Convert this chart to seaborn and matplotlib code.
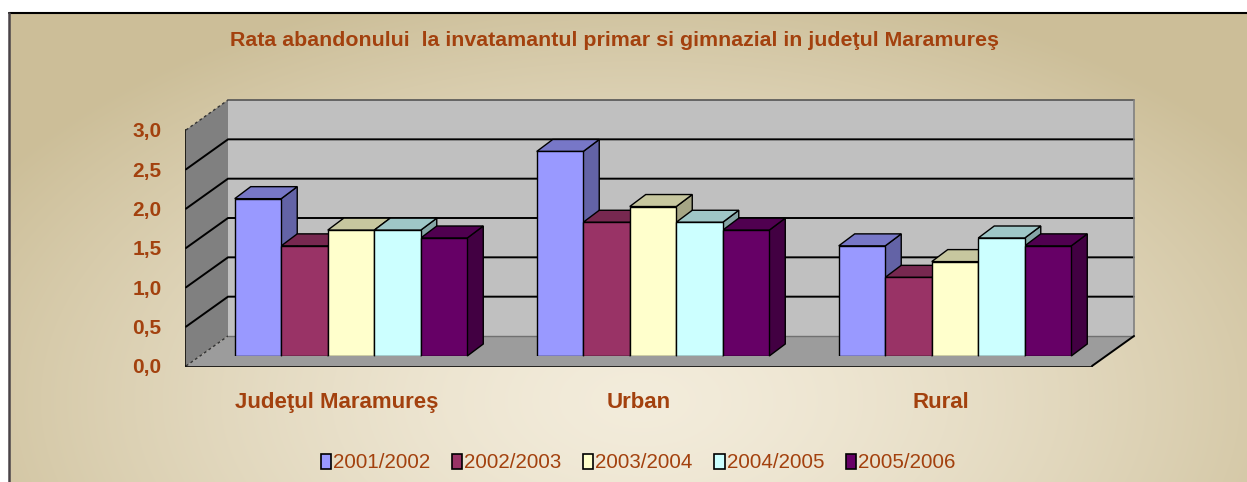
import numpy as np
import pandas as pd
import matplotlib
matplotlib.use("Agg")
import matplotlib.pyplot as plt
import seaborn as sns
from matplotlib.patches import Polygon, Patch
from matplotlib.lines import Line2D
from matplotlib.transforms import IdentityTransform
from matplotlib.colors import to_rgb

# ---------------- data ----------------
categories = ["Judeţul Maramureş", "Urban", "Rural"]
years = ["2001/2002", "2002/2003", "2003/2004", "2004/2005", "2005/2006"]
v2001_2002 = [2.0, 2.6, 1.4]
v2002_2003 = [1.4, 1.7, 1.0]
v2003_2004 = [1.6, 1.9, 1.2]
v2004_2005 = [1.6, 1.7, 1.5]
v2005_2006 = [1.5, 1.6, 1.4]
ytick_values = [0.0, 0.5, 1.0, 1.5, 2.0, 2.5, 3.0]
ytick_labels = ["0,0", "0,5", "1,0", "1,5", "2,0", "2,5", "3,0"]
title = "Rata abandonului  la invatamantul primar si gimnazial in judeţul Maramureş"

series = [v2001_2002, v2002_2003, v2003_2004, v2004_2005, v2005_2006]
rows = []
for yr, vals in zip(years, series):
    for c, v in zip(categories, vals):
        rows.append({"categorie": c, "an": yr, "rata": v})
df = pd.DataFrame(rows)

# ---------------- style ----------------
colors = ["#9999FF", "#993366", "#FFFFCC", "#CCFFFF", "#660066"]
TXT = "#A3410E"
sns.set_style("white")
plt.rcParams["font.family"] = ["Liberation Sans", "DejaVu Sans"]

W, H = 1247, 482
fig = plt.figure(figsize=(W / 100, H / 100), dpi=100)
fig.patch.set_facecolor("white")

# background gradient panel
bg = fig.add_axes([0, 0, 1, 1], zorder=-10)
bg.set_xlim(0, W)
bg.set_ylim(H, 0)
bg.set_axis_off()
xx, yy = np.meshgrid(np.arange(9, W), np.arange(13, H))
d = np.sqrt(((xx - 640) / 760.0) ** 2 + ((yy - 400) / 430.0) ** 2)
d = np.clip(d, 0, 1) ** 1.4
c0 = np.array(to_rgb("#F3ECDB"))
c1 = np.array(to_rgb("#CCBE98"))
img = c0[None, None, :] * (1 - d[..., None]) + c1[None, None, :] * d[..., None]
bg.imshow(img, extent=(9, W, H, 13), aspect="auto", interpolation="bilinear")
bg.plot([9, W], [12.5, 12.5], color="black", lw=1.5)
bg.plot([8.5, 8.5], [12.5, H], color="#4a4448", lw=1.8)

# front plane axes (value axis + category axis)
axf = fig.add_axes([186 / W, 116 / H, 906 / W, 236 / H], zorder=1)
axf.set_xlim(-0.5, 2.5)
axf.set_ylim(0, 3)
axf.patch.set_alpha(0)
for s in ["top", "right"]:
    axf.spines[s].set_visible(False)
for s in ["left", "bottom"]:
    axf.spines[s].set_color("black")
    axf.spines[s].set_linewidth(1.2)
axf.set_yticks(ytick_values)
axf.set_yticklabels(ytick_labels)
axf.set_xticks(range(len(categories)))
axf.set_xticklabels(categories)
axf.set_xticks([-0.5, 0.5, 1.5, 2.5], minor=True)
axf.tick_params(axis="y", direction="out", length=4.5, width=1.1, color="black",
                pad=13, labelsize=15, labelcolor=TXT)
axf.tick_params(axis="x", which="major", length=0, pad=19, labelsize=16, labelcolor=TXT)
axf.tick_params(axis="x", which="minor", direction="out", length=5, width=1.1, color="black")
for t in axf.get_yticklabels() + axf.get_xticklabels():
    t.set_fontweight("bold")

# bar plane axes
ax = fig.add_axes([200 / W, 126 / H, 906 / W, 236 / H], zorder=2)
sns.barplot(data=df, x="categorie", y="rata", hue="an", palette=colors,
            width=0.77, saturation=1, edgecolor="black", linewidth=1.0,
            legend=False, ax=ax)
ax.set_xlim(-0.5, 2.5)
ax.set_ylim(0, 3)
ax.set_axis_off()

bars = list(ax.patches)

FDX, FDY = -14, -10      # bar plane -> front plane
DDX, DDY = 42, 30        # full depth
BDX, BDY = 16, 12        # bar depth


def P(xd, yd, depth):
    px, py = ax.transData.transform((xd, yd))
    return (px + FDX + depth * DDX, py + FDY + depth * DDY)


def poly(pts, fc, ec="none", lw=0, z=0.5, ls="-"):
    p = Polygon(pts, closed=True, facecolor=fc, edgecolor=ec, linewidth=lw,
                transform=IdentityTransform(), clip_on=False, zorder=z, linestyle=ls)
    ax.add_patch(p)


def line(pts, color="black", lw=1.3, z=0.8, ls="-"):
    xs = [p[0] for p in pts]
    ys = [p[1] for p in pts]
    ln = Line2D(xs, ys, color=color, lw=lw, transform=IdentityTransform(),
                clip_on=False, zorder=z, linestyle=ls)
    ax.add_line(ln)


x0d, x1d = -0.5, 2.5
ymax = ytick_values[-1]
# back wall, side wall, floor
poly([P(x0d, 0, 1), P(x1d, 0, 1), P(x1d, ymax, 1), P(x0d, ymax, 1)], "#C0C0C0", z=0.3)
poly([P(x0d, 0, 0), P(x0d, 0, 1), P(x0d, ymax, 1), P(x0d, ymax, 0)], "#808080", z=0.3)
poly([P(x0d, 0, 0), P(x1d, 0, 0), P(x1d, 0, 1), P(x0d, 0, 1)], "#9C9C9C", z=0.35)
# gridlines
for yv in ytick_values[1:-1]:
    line([P(x0d, yv, 0), P(x0d, yv, 1), P(x1d, yv, 1)], "black", 1.4)
line([P(x0d, ymax, 0), P(x0d, ymax, 1)], "#333333", 1.0, ls=(0, (2, 2)))
line([P(x0d, ymax, 1), P(x1d, ymax, 1)], "#555555", 1.2)
line([P(x0d, 0, 0), P(x0d, 0, 1)], "#333333", 1.0, ls=(0, (2, 2)))
line([P(x0d, 0, 1), P(x1d, 0, 1)], "#707070", 1.0)
line([P(x1d, 0, 1), P(x1d, ymax, 1)], "#808080", 1.2)
line([P(x1d, 0, 0), P(x1d, 0, 1)], "black", 1.4)

# 3D bar faces
for b in bars:
    fc = np.array(to_rgb(b.get_facecolor()))
    bx0, bx1 = b.get_x(), b.get_x() + b.get_width()
    h = b.get_height()
    (ax0, ay0) = ax.transData.transform((bx0, 0))
    (ax1, ayh) = ax.transData.transform((bx1, h))
    top = [(ax0, ayh), (ax1, ayh), (ax1 + BDX, ayh + BDY), (ax0 + BDX, ayh + BDY)]
    side = [(ax1, ay0), (ax1 + BDX, ay0 + BDY), (ax1 + BDX, ayh + BDY), (ax1, ayh)]
    poly(side, tuple(fc * 0.65), "black", 1.0, z=2.5)
    poly(top, tuple(fc * 0.78), "black", 1.0, z=2.6)
    b.set_zorder(3)

# title
fig.text(615 / W, 1 - 41 / H, title, ha="center", va="center", color=TXT,
         fontsize=15.4, fontweight="bold")

# legend
handles = [Patch(facecolor=c, edgecolor="black", linewidth=1.2) for c in colors]
leg = fig.legend(handles, years, loc="center", bbox_to_anchor=(638 / W, 1 - 463 / H),
                 ncol=5, frameon=False, fontsize=14.8, handlelength=0.5, handleheight=0.75,
                 handletextpad=0.1, columnspacing=1.05, labelcolor=TXT)

fig.savefig("out.png", dpi=100)
